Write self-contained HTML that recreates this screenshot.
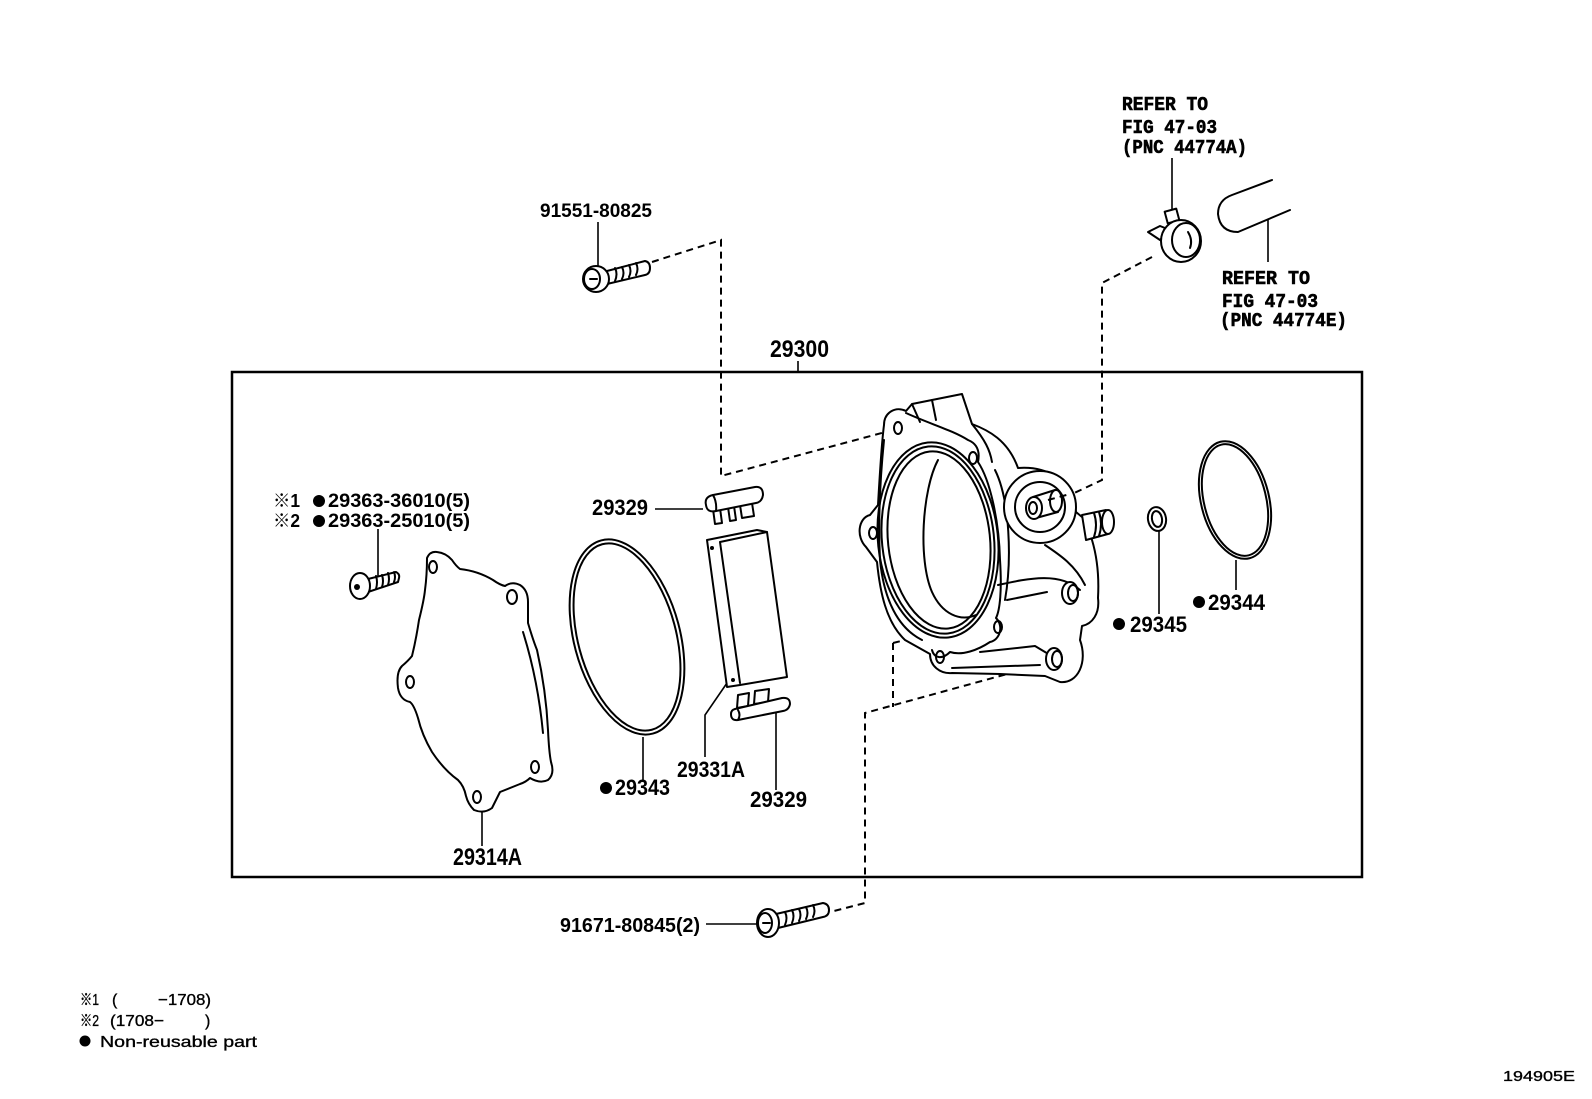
<!DOCTYPE html>
<html>
<head>
<meta charset="utf-8">
<style>
html,body{margin:0;padding:0;background:#fff;}
svg{display:block;}
.lbl{font-family:"Liberation Sans","Noto Sans CJK JP",sans-serif;font-weight:bold;fill:#000;}
.mono{font-family:"Liberation Mono","Noto Sans CJK JP",monospace;font-weight:bold;fill:#000;stroke:#000;stroke-width:0.6;}
.ft{font-family:"Liberation Sans","Noto Sans CJK JP",sans-serif;fill:#000;stroke:#000;stroke-width:0.35;}
.s{fill:none;stroke:#000;stroke-width:2;stroke-linejoin:round;stroke-linecap:round;}
.w{fill:#fff;stroke:#000;stroke-width:2;stroke-linejoin:round;}
.t{fill:none;stroke:#000;stroke-width:1.6;}
.d{fill:none;stroke:#000;stroke-width:2;stroke-dasharray:7 5;}
</style>
</head>
<body>
<svg width="1592" height="1099" viewBox="0 0 1592 1099" xmlns="http://www.w3.org/2000/svg">
<rect x="0" y="0" width="1592" height="1099" fill="#fff"/>

<!-- main box -->
<rect x="232" y="372" width="1130" height="505" fill="none" stroke="#000" stroke-width="2.5"/>
<line class="t" x1="798" y1="361" x2="798" y2="372"/>
<text class="lbl" x="770" y="357" font-size="24" textLength="59" lengthAdjust="spacingAndGlyphs">29300</text>

<!-- dashed connectors -->
<polyline class="d" points="652,262 721,240 721,476 893,430"/>
<polyline class="d" points="1152,257 1102,283 1102,480 1070,495"/>
<line class="d" x1="893" y1="643" x2="925" y2="635"/>
<line class="d" x1="1003" y1="613" x2="1060" y2="599"/>
<line class="d" x1="893" y1="643" x2="893" y2="707"/>
<polyline class="d" points="1040,665 865,713 865,903 830,912"/>

<!-- bolt 91551-80825 -->
<text class="lbl" x="540" y="217" font-size="19" textLength="112" lengthAdjust="spacingAndGlyphs">91551-80825</text>
<line class="t" x1="598" y1="222" x2="598" y2="266"/>
<path class="w" d="M607,271 L645,261 Q650,262 650,268 Q650,274 645,275 L607,284 Z"/>
<path class="s" d="M615,268 q3,6 0,13 M622,267 q3,6 0,12 M629,265 q3,6 0,12 M636,263 q3,6 0,12"/>
<ellipse class="w" cx="596" cy="279" rx="13" ry="13"/>
<ellipse class="s" cx="592" cy="279" rx="8" ry="10"/>
<line class="s" x1="590" y1="279" x2="597" y2="279"/>

<!-- clamp + hose -->
<text class="mono" x="1122" y="110" font-size="19" textLength="86" lengthAdjust="spacingAndGlyphs">REFER TO</text>
<text class="mono" x="1122" y="133" font-size="19" textLength="95" lengthAdjust="spacingAndGlyphs">FIG 47-03</text>
<text class="mono" x="1122" y="153" font-size="19" textLength="125" lengthAdjust="spacingAndGlyphs">(PNC 44774A)</text>
<line class="t" x1="1172" y1="158" x2="1172" y2="212"/>
<rect class="w" x="1166" y="210" width="12" height="12" transform="rotate(-15 1172 216)"/>
<path class="w" d="M1148,232 L1160,226 L1170,230 L1160,240 Z"/>
<ellipse class="w" cx="1181" cy="241" rx="20" ry="21"/>
<ellipse class="s" cx="1186" cy="240" rx="14" ry="17"/>
<path class="s" d="M1188,232 q5,8 2,16"/>
<path class="s" d="M1272,180 L1232,195 Q1218,200 1218,214 Q1220,232 1238,232 L1290,210"/>
<line class="t" x1="1268" y1="220" x2="1268" y2="262"/>
<text class="mono" x="1222" y="284" font-size="19" textLength="88" lengthAdjust="spacingAndGlyphs">REFER TO</text>
<text class="mono" x="1222" y="307" font-size="19" textLength="96" lengthAdjust="spacingAndGlyphs">FIG 47-03</text>
<text class="mono" x="1220" y="326" font-size="19" textLength="127" lengthAdjust="spacingAndGlyphs">(PNC 44774E)</text>

<!-- screw 29363 -->
<text class="lbl" x="273" y="507" font-size="18" textLength="27" lengthAdjust="spacingAndGlyphs">※1</text>
<circle cx="319" cy="501" r="6" fill="#000"/>
<text class="lbl" x="328" y="507" font-size="19" textLength="142" lengthAdjust="spacingAndGlyphs">29363-36010(5)</text>
<text class="lbl" x="273" y="527" font-size="18" textLength="27" lengthAdjust="spacingAndGlyphs">※2</text>
<circle cx="319" cy="521" r="6" fill="#000"/>
<text class="lbl" x="328" y="527" font-size="19" textLength="142" lengthAdjust="spacingAndGlyphs">29363-25010(5)</text>
<line class="t" x1="378" y1="529" x2="378" y2="578"/>
<path class="w" d="M368,579 L396,572 Q400,574 399,578 L398,582 L368,592 Z"/>
<path class="s" d="M376,576 q2,6 0,13 M382,575 q2,6 0,12 M388,573 q2,6 0,12 M394,572 q2,5 0,10"/>
<ellipse class="w" cx="360" cy="586" rx="10" ry="13"/>
<circle cx="357" cy="587" r="3" fill="#000"/>

<!-- gasket 29314A -->
<path class="s" d="M427,558 Q430,551 437,552 Q446,553 452,560 Q456,566 460,569 Q478,571 493,580 Q500,585 505,586 Q512,581 520,585 Q528,590 528,602 L528,623 Q533,640 537,650 Q546,690 548,730 Q549,752 551,762 Q555,774 548,780 Q540,784 530,778 Q526,782 520,784 Q510,788 500,792 Q496,800 492,808 Q484,814 474,810 Q468,804 466,796 Q464,786 458,780 Q444,770 432,752 Q422,735 418,718 Q414,705 410,702 Q400,700 398,688 Q396,672 402,666 Q408,661 412,656 Q416,640 419,620 Q424,600 425,590 Q427,575 427,558 Z"/>
<path class="s" d="M523,632 Q538,680 543,733"/>
<ellipse class="s" cx="433" cy="567" rx="4" ry="6"/>
<ellipse class="s" cx="512" cy="597" rx="5" ry="7"/>
<ellipse class="s" cx="410" cy="682" rx="4" ry="6"/>
<ellipse class="s" cx="535" cy="767" rx="4" ry="6"/>
<ellipse class="s" cx="477" cy="797" rx="4" ry="6"/>
<line class="t" x1="482" y1="812" x2="482" y2="846"/>
<text class="lbl" x="453" y="865" font-size="24" textLength="69" lengthAdjust="spacingAndGlyphs">29314A</text>

<!-- ring 29343 -->
<ellipse class="s" cx="627" cy="637" rx="53" ry="100" transform="rotate(-15 627 637)"/>
<ellipse class="s" cx="627" cy="637" rx="49" ry="96" transform="rotate(-15 627 637)"/>
<line class="t" x1="643" y1="737" x2="643" y2="780"/>
<circle cx="606" cy="788" r="6" fill="#000"/>
<text class="lbl" x="615" y="795" font-size="22" textLength="55" lengthAdjust="spacingAndGlyphs">29343</text>

<!-- cap 29329 top -->
<text class="lbl" x="592" y="515" font-size="22" textLength="56" lengthAdjust="spacingAndGlyphs">29329</text>
<line class="t" x1="655" y1="509" x2="703" y2="509"/>
<path class="w" d="M713,509 L715,524 L722,523 L720,508 Z"/>
<path class="w" d="M728,507 L730,521 L736,520 L734,506 Z"/>
<path class="w" d="M740,505 L742,518 L754,516 L752,503 Z"/>
<path class="w" d="M706,505 Q704,497 713,495 L755,487 Q763,486 763,495 Q762,502 756,503 L716,511 Q707,513 706,505 Z"/>
<path class="s" d="M713,495 Q717,502 716,511"/>

<!-- cover 29331A -->
<path class="w" d="M707,540 L757,530 L767,532 L787,677 L740,685 L727,687 Z"/>
<path class="s" d="M720,542 L740,683 M720,542 L767,532"/>
<circle cx="712" cy="548" r="2" fill="#000"/>
<circle cx="733" cy="680" r="2" fill="#000"/>
<polyline class="t" points="727,683 705,715 705,757"/>
<text class="lbl" x="677" y="777" font-size="22" textLength="68" lengthAdjust="spacingAndGlyphs">29331A</text>

<!-- cap 29329 bottom -->
<path class="w" d="M738,695 L737,708 L748,706 L749,693 Z"/>
<path class="w" d="M755,691 L754,704 L768,702 L769,689 Z"/>
<path class="w" d="M735,709 L782,698 Q790,697 790,704 Q789,710 783,711 L738,720 Q731,721 731,714 Q731,710 735,709 Z"/>
<path class="s" d="M738,710 Q741,715 738,720"/>
<line class="t" x1="776" y1="713" x2="776" y2="790"/>
<text class="lbl" x="750" y="807" font-size="22" textLength="57" lengthAdjust="spacingAndGlyphs">29329</text>

<!-- pump housing -->
<path class="w" d="M884,425 C884,412 896,406 906,411 L912,404 L962,394 L972,424 C988,430 1008,440 1018,468 C1045,466 1072,478 1076,512 L1088,522 L1092,540 C1098,560 1099,580 1098,598 C1100,614 1092,624 1082,626 L1080,640 C1088,662 1078,684 1060,682 L1045,676 L1000,674 L952,673 C940,674 930,666 930,654 L905,640 C886,622 880,592 877,562 L866,547 C856,537 858,518 870,515 L878,505 C880,470 882,440 884,425 Z"/>
<!-- flange face -->
<path class="s" d="M906,413 C930,424 952,430 968,440 C978,444 980,452 978,462 C990,480 999,520 1000,560 C1002,590 1000,610 996,618 C1004,626 1000,640 990,642 C978,650 962,656 950,652 C942,660 934,658 932,650"/>
<path class="s" d="M884,440 C880,480 878,520 880,560 C884,600 898,628 922,640"/>
<ellipse class="s" cx="938" cy="540" rx="60" ry="98" transform="rotate(-6 938 540)"/>
<ellipse class="s" cx="938" cy="540" rx="56" ry="94" transform="rotate(-6 938 540)"/>
<ellipse class="s" cx="939" cy="540" rx="51" ry="89" transform="rotate(-6 939 540)"/>
<path class="s" d="M938,460 C922,490 918,560 932,592 C942,614 960,622 976,615"/>
<path class="s" d="M912,404 L920,422 M932,400 L936,420"/>
<path class="s" d="M972,424 C985,440 990,450 992,462"/>
<path class="s" d="M995,470 C1010,500 1012,560 1005,600"/>
<path class="s" d="M1007,600 L1047,592 M952,668 L1040,665 M980,652 L1035,646 L1050,655"/>
<path class="s" d="M998,585 C1030,578 1060,572 1080,590"/>
<path class="s" d="M1045,545 C1060,555 1075,565 1085,585"/>
<!-- holes -->
<ellipse class="s" cx="898" cy="428" rx="4" ry="6"/>
<ellipse class="s" cx="973" cy="458" rx="4" ry="6"/>
<ellipse class="s" cx="873" cy="533" rx="4" ry="6"/>
<ellipse class="s" cx="940" cy="657" rx="4" ry="6"/>
<ellipse class="s" cx="998" cy="627" rx="4" ry="6"/>
<ellipse class="w" cx="1070" cy="593" rx="8" ry="11"/>
<ellipse class="s" cx="1073" cy="593" rx="5" ry="8"/>
<ellipse class="w" cx="1054" cy="659" rx="8" ry="11"/>
<ellipse class="s" cx="1057" cy="659" rx="5" ry="8"/>
<!-- nipple -->
<path class="w" d="M1082,515 L1106,510 L1108,534 L1086,540 Z"/>
<ellipse class="w" cx="1108" cy="522" rx="6" ry="12"/>
<path class="s" d="M1094,513 q4,12 0,24 M1099,512 q4,12 0,24"/>
<!-- boss -->
<circle class="w" cx="1040" cy="507" r="36"/>
<circle class="s" cx="1040" cy="507" r="25"/>
<path class="w" d="M1033,497 L1055,490 L1058,512 L1036,518 Z"/>
<ellipse class="w" cx="1056" cy="501" rx="6" ry="11"/>
<ellipse class="w" cx="1034" cy="508" rx="8" ry="11"/>
<ellipse class="s" cx="1033" cy="508" rx="4" ry="6"/>
<line class="d" x1="1048" y1="500" x2="1070" y2="494"/>

<!-- ring 29345 -->
<ellipse class="s" cx="1157" cy="519" rx="9" ry="12" transform="rotate(-10 1157 519)"/>
<ellipse class="s" cx="1157" cy="519" rx="5" ry="8" transform="rotate(-10 1157 519)"/>
<line class="t" x1="1159" y1="531" x2="1159" y2="614"/>
<circle cx="1119" cy="624" r="6" fill="#000"/>
<text class="lbl" x="1130" y="632" font-size="22" textLength="57" lengthAdjust="spacingAndGlyphs">29345</text>

<!-- ring 29344 -->
<ellipse class="s" cx="1235" cy="500" rx="34" ry="60" transform="rotate(-14 1235 500)"/>
<ellipse class="s" cx="1235" cy="500" rx="31" ry="57" transform="rotate(-14 1235 500)"/>
<line class="t" x1="1236" y1="560" x2="1236" y2="590"/>
<circle cx="1199" cy="602" r="6" fill="#000"/>
<text class="lbl" x="1208" y="610" font-size="22" textLength="57" lengthAdjust="spacingAndGlyphs">29344</text>

<!-- bolt 91671-80845 -->
<text class="lbl" x="560" y="932" font-size="20" textLength="140" lengthAdjust="spacingAndGlyphs">91671-80845(2)</text>
<line class="t" x1="706" y1="924" x2="757" y2="924"/>
<path class="w" d="M776,914 L823,903 Q829,904 829,910 Q829,916 823,917 L778,928 Z"/>
<path class="s" d="M785,912 q3,6 0,13 M792,910 q3,6 0,13 M799,909 q3,6 0,12 M806,907 q3,6 0,12 M813,905 q3,6 0,12"/>
<ellipse class="w" cx="768" cy="923" rx="11" ry="14"/>
<ellipse class="s" cx="765" cy="923" rx="7" ry="10"/>
<line class="s" x1="763" y1="923" x2="770" y2="923"/>

<!-- footer legend -->
<text class="ft" x="80" y="1005" font-size="16" textLength="19" lengthAdjust="spacingAndGlyphs">※1</text>
<text class="ft" x="112" y="1005" font-size="16">(</text>
<text class="ft" x="158" y="1005" font-size="16" textLength="53" lengthAdjust="spacingAndGlyphs">−1708)</text>
<text class="ft" x="80" y="1026" font-size="16" textLength="19" lengthAdjust="spacingAndGlyphs">※2</text>
<text class="ft" x="110" y="1026" font-size="16" textLength="54" lengthAdjust="spacingAndGlyphs">(1708−</text>
<text class="ft" x="205" y="1026" font-size="16">)</text>
<circle cx="85" cy="1041" r="5.5" fill="#000"/>
<text class="ft" x="100" y="1047" font-size="16" textLength="157" lengthAdjust="spacingAndGlyphs">Non-reusable part</text>
<text class="ft" x="1503" y="1081" font-size="15" textLength="72" lengthAdjust="spacingAndGlyphs">194905E</text>
</svg>
</body>
</html>
